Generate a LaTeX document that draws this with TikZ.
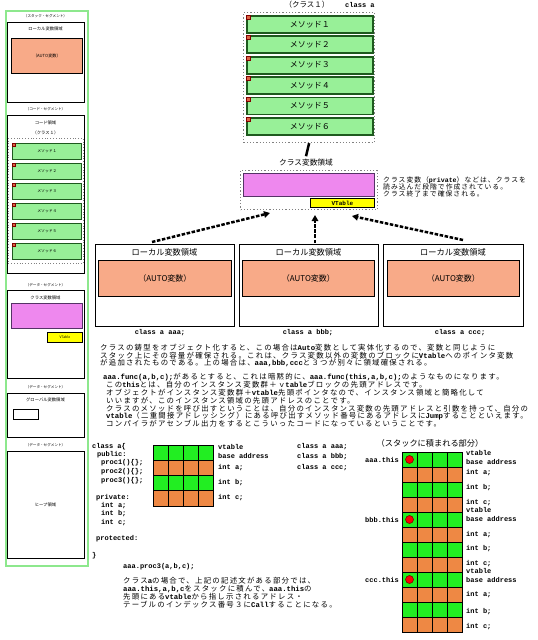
\documentclass[tikz,border=0pt]{standalone}
\usepackage{fontspec}
\setmainfont{Noto Sans CJK JP}
\newfontfamily\jpsp{Noto Sans CJK JP}[LetterSpace=17]
\newfontfamily\jpspb{Noto Sans CJK JP}[LetterSpace=15]
\newfontfamily\lmono{Liberation Mono}
\newcommand\latn[2][7.3]{{\lmono\bfseries\fontsize{#1}{#1}\selectfont #2}}
\usetikzlibrary{arrows.meta}
\definecolor{outergreen}{HTML}{8DE88D}
\definecolor{mfill}{HTML}{98F098}
\definecolor{mborder}{HTML}{1E5A1E}
\definecolor{ggreen}{HTML}{22EE22}
\definecolor{gorange}{HTML}{EE8844}
\definecolor{salmon}{HTML}{F8AA88}
\definecolor{pinkv}{HTML}{EE88EE}
\definecolor{pinkb}{HTML}{553366}
\definecolor{yel}{HTML}{FFFF00}
\definecolor{redsq}{HTML}{DD6644}
\newcommand\fz[1]{\fontsize{#1}{#1}\selectfont}
\tikzset{
  txt/.style={inner sep=0pt, anchor=west, font=\jpsp\fz{7.4}},
  ctxt/.style={inner sep=0pt, font=\fz{8.2}},
  mono/.style={inner sep=0pt, anchor=west, font=\lmono\bfseries\fz{7}},
  tinyt/.style={inner sep=0pt, font=\fz{3.6}},
  smallt/.style={inner sep=0pt, font=\fz{4.3}},
  box/.style={draw=black, line width=0.9pt, anchor=north west, inner sep=0pt},
  dotbox/.style={draw=gray, dotted, line width=1.2pt, anchor=north west, inner sep=0pt},
  meth/.style={draw=mborder, fill=mfill, line width=1.8pt, anchor=north west, inner sep=0pt, minimum width=126pt, minimum height=17pt, font=\fz{8}},
  smeth/.style={draw=mborder, fill=mfill, line width=1pt, anchor=north west, inner sep=0pt, minimum width=69pt, minimum height=16pt, font=\fz{3.9}},
  rsq/.style={draw=red!50!black, fill=redsq, line width=0.4pt, anchor=north west, inner sep=0pt, minimum size=4pt},
  srsq/.style={draw=red!50!black, fill=redsq, line width=0.3pt, anchor=north west, inner sep=0pt, minimum size=2.5pt},
  auto/.style={draw=black, fill=salmon, line width=0.9pt, anchor=north west, inner sep=0pt, font=\fz{8}},
  pinkbox/.style={draw=pinkb, fill=pinkv, line width=1pt, anchor=north west, inner sep=0pt},
  yelbox/.style={draw=black, fill=yel, line width=0.8pt, anchor=north west, inner sep=0pt},
  darrow/.style={line width=2.5pt, dash pattern=on 3.5pt off 1.6pt, -{Triangle[length=6pt,width=6.5pt]}},
  gcell/.style={fill=ggreen, draw=black, line width=0.9pt},
  ocell/.style={fill=gorange, draw=black, line width=0.9pt},
  dot/.style={circle, fill=red, draw=red!50!black, line width=0.6pt, inner sep=0pt, minimum size=8pt}
}
\begin{document}
\begin{tikzpicture}[x=1pt,y=-1pt]
\useasboundingbox (0,0) rectangle (538,640);
\fill[white] (0,0) rectangle (538,640);

% ===== left column =====
\node[draw=outergreen, line width=1.8pt, anchor=north west, minimum width=82pt, minimum height=555pt, inner sep=0pt] (outer) at (5,10) {};
\node[tinyt] (lh1) at (45.5,16) {（スタック・セグメント）};
\node[box, minimum width=77pt, minimum height=80pt] (lsbox) at (7,22) {};
\node[smallt] (lsl) at (45.5,29) {ローカル変数領域};
\node[auto, minimum width=71pt, minimum height=35pt, font=\fz{4.2}] (lsauto) at (11,38) {（AUTO変数）};
\node[tinyt] (lh2) at (45.5,109) {（コード・セグメント）};
\node[box, minimum width=77pt, minimum height=158pt] (lcbox) at (7,115) {};
\node[smallt] (lcl) at (45.5,123) {コード領域};
\node[smallt] (lcc) at (45.5,133) {（クラス１）};
\node[dotbox, line width=0.8pt, minimum width=75pt, minimum height=125pt] (lcdot) at (8,138) {};
\node[smeth] (lm1) at (12,143) {メソッド１};
\node[smeth] (lm2) at (12,163) {メソッド２};
\node[smeth] (lm3) at (12,183) {メソッド３};
\node[smeth] (lm4) at (12,203) {メソッド４};
\node[smeth] (lm5) at (12,223) {メソッド５};
\node[smeth] (lm6) at (12,243) {メソッド６};
\foreach \i in {1,...,6} {\node[srsq] (lr\i) at (lm\i.north west) {};}
\node[tinyt] (lh3) at (45.5,285) {（データ・セグメント）};
\node[box, minimum width=77pt, minimum height=88pt] (ldbox) at (7,290) {};
\node[smallt] (ldl) at (45.5,298) {クラス変数領域};
\node[pinkbox, minimum width=71pt, minimum height=25pt] (ldp) at (11,303) {};
\node[yelbox, minimum width=35pt, minimum height=10pt, font=\fz{3.4}] (ldy) at (47,332) {VTable};
\node[tinyt] (lh4) at (45.5,387) {（データ・セグメント）};
\node[box, minimum width=77pt, minimum height=44pt] (lgbox) at (7,393) {};
\node[smallt] (lgl) at (45.5,400) {グローバル変数領域};
\node[box, line width=0.8pt, minimum width=25pt, minimum height=10pt] (lgs) at (13,409) {};
\node[tinyt] (lh5) at (45.5,445) {（データ・セグメント）};
\node[box, minimum width=77pt, minimum height=107pt] (lhbox) at (7,451) {};
\node[smallt] (lhl) at (45.5,505) {ヒープ領域};

% ===== class 1 =====
\node[ctxt, font=\fz{7.5}] (cls1) at (307,5) {（クラス１）};
\node[mono] (clsa) at (345,5) {class a};
\node[dotbox, minimum width=131pt, minimum height=130pt] (clsbox) at (243,12) {};
\node[meth] (m1) at (246,15) {メソッド１};
\node[meth] (m2) at (246,35.4) {メソッド２};
\node[meth] (m3) at (246,55.8) {メソッド３};
\node[meth] (m4) at (246,76.2) {メソッド４};
\node[meth] (m5) at (246,96.6) {メソッド５};
\node[meth] (m6) at (246,117) {メソッド６};
\foreach \i in {1,...,6} {\node[rsq] (r\i) at (m\i.north west) {};}

% ===== class variable region =====
\node[ctxt, font=\fz{7.7}, inner sep=3pt] (cvl) at (306,163) {クラス変数領域};
\draw[line width=2.5pt] (clsbox.south) -- (cvl.north);
\node[dotbox, minimum width=137pt, minimum height=39pt] (cvbox) at (240,170) {};
\node[pinkbox, minimum width=131pt, minimum height=23pt] (cvp) at (243,173) {};
\node[yelbox, minimum width=64pt, minimum height=9pt, font=\lmono\bfseries\fz{6}] (cvy) at (310,198) {VTable};
\node[txt, font=\jpspb\fz{6.8}] (cvt1) at (383,180) {クラス変数（\latn[6.6]{private}）などは、クラスを};
\node[txt, font=\jpspb\fz{6.8}] (cvt2) at (383,187) {読み込んだ段階で作成されている。};
\node[txt, font=\jpspb\fz{6.8}] (cvt3) at (383,194) {クラス終了まで確保される。};

% ===== local boxes =====
\node[box, minimum width=139pt, minimum height=82pt] (lb1) at (95,244) {};
\node[box, minimum width=139pt, minimum height=82pt] (lb2) at (239,244) {};
\node[box, minimum width=140pt, minimum height=82pt] (lb3) at (383,244) {};
\node[ctxt] (lt1) at (164.5,252) {ローカル変数領域};
\node[ctxt] (lt2) at (308.5,252) {ローカル変数領域};
\node[ctxt] (lt3) at (453,252) {ローカル変数領域};
\node[auto, minimum width=133pt, minimum height=36pt] (la1) at (98,260) {（AUTO変数）};
\node[auto, minimum width=132pt, minimum height=36pt] (la2) at (242,260) {（AUTO変数）};
\node[auto, minimum width=132pt, minimum height=36pt] (la3) at (387,260) {（AUTO変数）};
\node[mono, anchor=center] (lc1) at (160,333) {class a aaa;};
\node[mono, anchor=center] (lc2) at (308,333) {class a bbb;};
\node[mono, anchor=center] (lc3) at (460,333) {class a ccc;};

% arrows
\coordinate (a1s) at (152,242);
\coordinate (a1e) at (270,213);
\coordinate (a2s) at (315,243);
\coordinate (a2e) at (315,215);
\coordinate (a3s) at (463,240);
\coordinate (a3e) at (352,216);
\draw[darrow] (a1s) -- (a1e);
\draw[darrow] (a2s) -- (a2e);
\draw[darrow] (a3s) -- (a3e);

% ===== paragraph 1 =====
\node[txt] (p11) at (100,348) {クラスの鋳型をオブジェクト化すると、この場合は\latn{Auto}変数として実体化するので、変数と同じように};
\node[txt] (p12) at (100,355.7) {スタック上にその容量が確保される。これは、クラス変数以外の変数のブロックに\latn{Vtable}へのポインタ変数};
\node[txt] (p13) at (100,363.4) {が追加されたものである。上の場合は、\latn{aaa,bbb,ccc}と３つが別々に領域確保される。};

% ===== paragraph 2 =====
\node[txt] (p21) at (103,377) {\latn{aaa.func(a,b,c);}があるとすると、これは暗黙的に、\latn{aaa.func(this,a,b,c);}のようなものになります。};
\node[txt] (p22) at (106,384.8) {この\latn{this}とは、自分のインスタンス変数群＋ｖ\latn{table}ブロックの先頭アドレスです。};
\node[txt] (p23) at (106,392.6) {オブジェクトがインスタンス変数群＋\latn{vtable}先頭ポインタなので、インスタンス領域と簡略化して};
\node[txt] (p24) at (106,400.4) {いいますが、このインスタンス領域の先頭アドレスのことです。};
\node[txt] (p25) at (106,408.2) {クラスのメソッドを呼び出すということは、自分のインスタンス変数の先頭アドレスと引数を持って、自分の};
\node[txt] (p26) at (106,416) {\latn{vtable}（二重間接アドレッシング）にある呼び出すメソッド番号にあるアドレスに\latn{Jump}することといえます。};
\node[txt] (p27) at (106,423.8) {コンパイラがアセンブル出力をするとこういったコードになっているということです。};

% ===== code =====
\node[mono] (k1) at (92,447) {class a\{};
\node[mono] (k2) at (97,455) {public:};
\node[mono] (k3) at (101,463) {proc1()\{\};};
\node[mono] (k4) at (101,472) {proc2()\{\};};
\node[mono] (k5) at (101,481) {proc3()\{\};};
\node[mono] (k6) at (96,498) {private:};
\node[mono] (k7) at (101,506) {int a;};
\node[mono] (k8) at (101,514) {int b;};
\node[mono] (k9) at (101,523) {int c;};
\node[mono] (k10) at (96,539) {protected:};
\node[mono] (k11) at (92,556) {\}};

\foreach \r in {0,...,3} {
  \pgfmathsetmacro\yy{445+15.25*\r}
  \ifodd\r \def\cs{ocell}\else\def\cs{gcell}\fi
  \foreach \c in {0,...,3} {
    \draw[\cs] (153+15*\c,\yy) rectangle ++(15,15.25);
  }
}
\node[mono] (g1) at (218,447) {vtable};
\node[mono] (g2) at (218,456) {base address};
\node[mono] (g3) at (218,468) {int a;};
\node[mono] (g4) at (218,483) {int b;};
\node[mono] (g5) at (218,498) {int c;};
\node[mono] (ca1) at (297,447) {class a aaa;};
\node[mono] (ca2) at (297,457) {class a bbb;};
\node[mono] (ca3) at (297,468) {class a ccc;};

\node[mono] (pc) at (123,567) {aaa.proc3(a,b,c);};
\node[txt] (p31) at (123,581) {クラス\latn{a}の場合で、上記の記述文がある部分では、};
\node[txt] (p32) at (123,589) {\latn{aaa.this,a,b,c}をスタックに積んで、\latn{aaa.this}の};
\node[txt] (p33) at (123,597) {先頭にある\latn{vtable}から指し示されるアドレス・};
\node[txt] (p34) at (123,605) {テーブルのインデックス番号３に\latn{Call}することになる。};

% ===== stack =====
\node[ctxt] (sth) at (430,443) {（スタックに積まれる部分）};
\foreach \r in {0,...,11} {
  \pgfmathtruncatemacro\md{mod(\r,2)}
  \ifnum\md=1 \def\cs{ocell}\else\def\cs{gcell}\fi
  \foreach \c in {0,...,3} {
    \draw[\cs] (402+15*\c,452+15*\r) rectangle ++(15,15);
  }
}
\node[dot] (d1) at (409.5,459.5) {};
\node[dot] (d2) at (409.5,519.5) {};
\node[dot] (d3) at (409.5,579.5) {};
\node[mono, anchor=east] (t1) at (399,459.5) {aaa.this};
\node[mono, anchor=east] (t2) at (399,519.5) {bbb.this};
\node[mono, anchor=east] (t3) at (399,579.5) {ccc.this};
\node[mono] (s1) at (466,453) {vtable};
\node[mono] (s2) at (466,462) {base address};
\node[mono] (s3) at (466,473) {int a;};
\node[mono] (s4) at (466,488) {int b;};
\node[mono] (s5) at (466,503) {int c;};
\node[mono] (s6) at (466,510) {vtable};
\node[mono] (s7) at (466,519) {base address};
\node[mono] (s8) at (466,535) {int a;};
\node[mono] (s9) at (466,549) {int b;};
\node[mono] (s10) at (466,564) {int c;};
\node[mono] (s11) at (466,571) {vtable};
\node[mono] (s12) at (466,580) {base address};
\node[mono] (s13) at (466,595) {int a;};
\node[mono] (s14) at (466,612) {int b;};
\node[mono] (s15) at (466,627) {int c;};
\end{tikzpicture}
\end{document}
